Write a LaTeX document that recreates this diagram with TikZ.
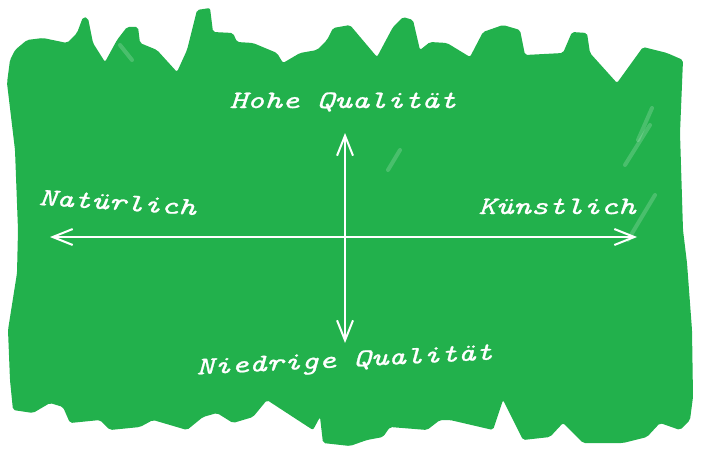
\documentclass[tikz,border=0pt]{standalone}
\usepackage{fontspec}
\usetikzlibrary{arrows.meta}
\definecolor{paintgreen}{RGB}{34,177,76}
\newfontfamily\labelfont{lmmono10-italic.otf}[FakeBold=0.9]
\tikzset{
  axisline/.style={draw=white, line width=2pt, >={Straight Barb[length=20pt,width=16pt]}, <->},
  axislabel/.style={text=white, inner sep=0pt, anchor=base, font=\labelfont\fontsize{25}{30}\selectfont},
  streak/.style={draw=white, opacity=0.18, line width=4pt, line cap=round}
}

\begin{document}
\begin{tikzpicture}[x=1pt,y=-1pt]
        \useasboundingbox (0,0) rectangle (701,452);
        % paint blot
        \fill[paintgreen, rounded corners=2pt] (15,50) -- (27,40) -- (43,38) -- (67,43) -- (77,33) -- (83,17) -- (88,18)
            -- (93,43) -- (105,62) -- (117,40) -- (127,27) -- (138,27) -- (140,43) -- (157,50) -- (177,72)
            -- (187,50) -- (197,10) -- (210,8) -- (213,32) -- (233,33) -- (237,42) -- (253,43) -- (277,53)
            -- (283,63) -- (300,53) -- (317,50) -- (327,40) -- (333,28) -- (350,25) -- (377,57) -- (393,27)
            -- (403,17) -- (413,20) -- (420,50) -- (430,42) -- (447,43) -- (470,57) -- (483,32) -- (503,25)
            -- (520,30) -- (525,55) -- (563,53) -- (572,32) -- (587,33) -- (590,53) -- (617,83) -- (643,47)
            -- (667,53) -- (683,60) -- (680,133) -- (683,230) -- (687,263) -- (692,330) -- (693,397)
            -- (690,420) -- (680,430) -- (660,423) -- (647,437) -- (623,443) -- (583,443) -- (563,423)
            -- (550,437) -- (523,440) -- (503,400) -- (493,430) -- (450,420) -- (440,420) -- (427,430)
            -- (390,427) -- (383,437) -- (367,440) -- (350,446) -- (323,443) -- (320,417) -- (313,430)
            -- (293,417) -- (267,400) -- (253,417) -- (233,423) -- (217,413) -- (203,417) -- (187,430)
            -- (153,420) -- (140,427) -- (110,430) -- (100,420) -- (70,423) -- (63,407) -- (50,403)
            -- (33,413) -- (13,410) -- (10,380) -- (8,330) -- (17,273) -- (18,230) -- (15,150)
            -- (7,83) -- (10,60) -- cycle;
        % brush streaks
        \draw[streak] (652,108) -- (638,140);
        \draw[streak] (650,125) -- (625,165);
        \draw[streak] (655,195) -- (628,240);
        \draw[streak] (400,150) -- (388,170);
        \draw[streak] (120,45) -- (132,60);

        \coordinate (west) at (50,237);
        \coordinate (east) at (637,237);
        \coordinate (north) at (345,133);
        \coordinate (south) at (345,343);
        \draw[axisline] (west) -- (east);
        \draw[axisline] (north) -- (south);

        \node[axislabel, xscale=1.33] (high) at (343,108) {Hohe Qualität};
        \node[axislabel, rotate=2.9, xscale=1.33] (low) at (345,367) {Niedrige Qualität};
        \node[axislabel, rotate=-3.7, xscale=1.33] (natural) at (117,210) {Natürlich};
        \node[axislabel, xscale=1.33] (artificial) at (557,214) {Künstlich};
    \end{tikzpicture}
\end{document}
